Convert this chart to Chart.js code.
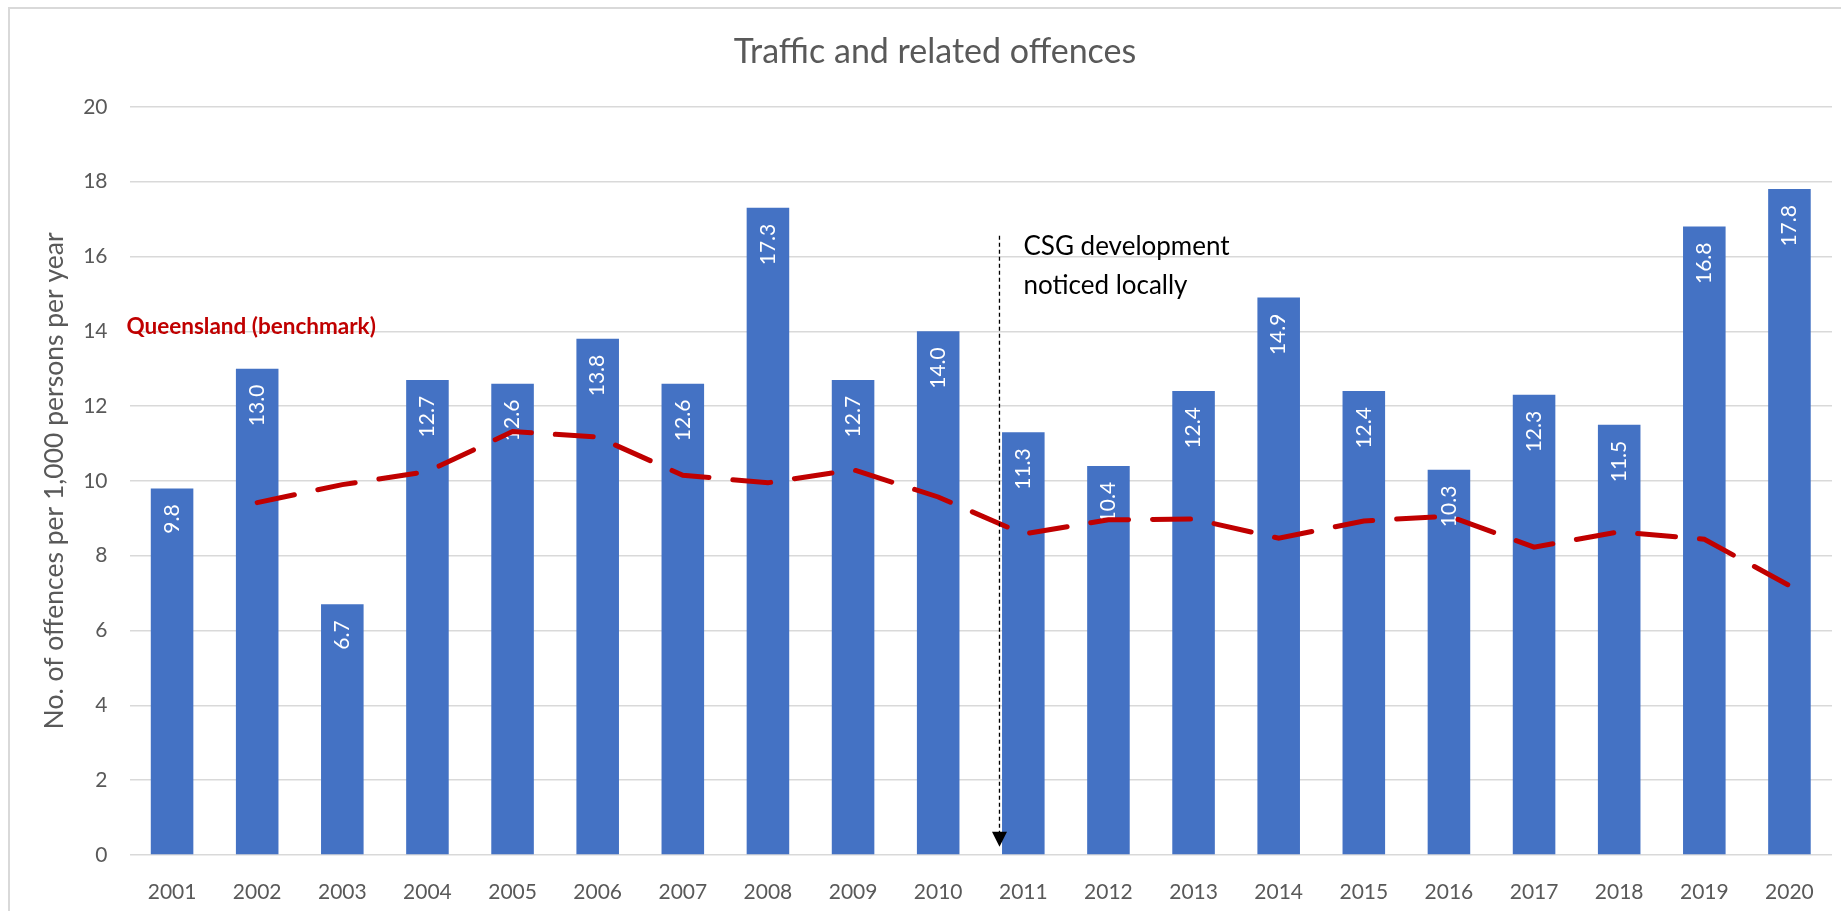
<!DOCTYPE html>
<html>
<head>
<meta charset="utf-8">
<script src="https://cdn.jsdelivr.net/npm/chart.js@4.4.1/dist/chart.umd.min.js"></script>
<style>
  body { margin: 0; background: #fff; overflow: hidden; }
  #frame { position: absolute; left: 8px; top: 7px; width: 1850px; height: 920px; border: 2px solid #d9d9d9; }
  #myChart { position: absolute; left: 0; top: 0; }
</style>
</head>
<body>
<div id="frame"></div>
<canvas id="myChart" width="1841" height="911"></canvas>
<script>
var years = ['2001', '2002', '2003', '2004', '2005', '2006', '2007', '2008', '2009', '2010',
             '2011', '2012', '2013', '2014', '2015', '2016', '2017', '2018', '2019', '2020'];

// local offences per 1,000 persons
var rates = [9.8, 13.0, 6.7, 12.7, 12.6, 13.8, 12.6, 17.3, 12.7, 14.0,
             11.3, 10.4, 12.4, 14.9, 12.4, 10.3, 12.3, 11.5, 16.8, 17.8];

// Queensland benchmark (no value for 2001)
var qldRates = [null, 9.42, 9.9, 10.25, 11.32, 11.17, 10.15, 9.95, 10.3, 9.57,
                8.58, 8.96, 8.98, 8.47, 8.93, 9.06, 8.23, 8.64, 8.44, 7.2];

var noteLines = ['CSG development', 'noticed locally'];

Chart.defaults.font.family = 'Lato, "Open Sans", sans-serif';

// bar value labels, written upwards inside the top of each bar
var barLabels = {
  id: 'barLabels',
  afterDatasetDraw: function(chart, args) {
    if (args.index !== 0) return;
    var ctx = chart.ctx;
    ctx.save();
    ctx.fillStyle = '#ffffff';
    ctx.font = '21px Lato';
    ctx.textAlign = 'right';
    ctx.textBaseline = 'middle';
    args.meta.data.forEach(function(bar, i) {
      ctx.save();
      ctx.translate(bar.x, bar.y + 16);
      ctx.rotate(-Math.PI / 2);
      ctx.fillText(rates[i].toFixed(1), 0, 0);
      ctx.restore();
    });
    ctx.restore();
  }
};

// CSG marker and the benchmark label
var notes = {
  id: 'notes',
  afterDatasetsDraw: function(chart) {
    var ctx = chart.ctx;
    var xs = chart.scales.x, ys = chart.scales.y;
    var x = xs.getPixelForValue(9.72);
    var yTop = ys.getPixelForValue(16.55);
    var yTip = ys.getPixelForValue(0.22);

    ctx.save();
    ctx.strokeStyle = '#000';
    ctx.lineWidth = 1.3;
    ctx.setLineDash([4, 3]);
    ctx.beginPath();
    ctx.moveTo(x, yTop);
    ctx.lineTo(x, yTip - 14);
    ctx.stroke();
    ctx.setLineDash([]);

    ctx.fillStyle = '#000';
    ctx.beginPath();
    ctx.moveTo(x - 7.5, yTip - 15);
    ctx.lineTo(x + 7.5, yTip - 15);
    ctx.lineTo(x, yTip);
    ctx.closePath();
    ctx.fill();

    ctx.font = '26px Lato';
    ctx.textAlign = 'left';
    ctx.textBaseline = 'middle';
    ctx.fillText(noteLines[0], x + 24, yTop + 11);
    ctx.fillText(noteLines[1], x + 24, yTop + 50);

    ctx.fillStyle = '#c00000';
    ctx.font = 'bold 22.5px Lato';
    ctx.fillText('Queensland (benchmark)', chart.chartArea.left - 3, ys.getPixelForValue(14.12));
    ctx.restore();
  }
};

var ctx = document.getElementById('myChart').getContext('2d');
var myChart = new Chart(ctx, {
  type: 'bar',
  data: {
    labels: years,
    datasets: [{
      type: 'bar',
      label: 'Local',
      data: rates,
      backgroundColor: '#4472c4',
      barPercentage: 0.5,
      categoryPercentage: 1,
      order: 2
    }, {
      type: 'line',
      label: 'Queensland (benchmark)',
      data: qldRates,
      borderColor: '#c00000',
      borderWidth: 5,
      borderDash: [38, 24],
      borderCapStyle: 'round',
      pointRadius: 0,
      tension: 0,
      fill: false,
      order: 1
    }]
  },
  options: {
    responsive: false,
    animation: false,
    layout: { padding: { left: 38, right: 9, top: 8, bottom: 0 } },
    plugins: {
      legend: { display: false },
      tooltip: { enabled: false },
      title: {
        display: true,
        text: 'Traffic and related offences',
        color: '#595959',
        font: { size: 34, weight: 'normal' },
        padding: { top: 24, bottom: 34 }
      }
    },
    scales: {
      x: {
        grid: { display: false },
        border: { display: false },
        ticks: { color: '#595959', font: { size: 21 }, padding: 17, maxRotation: 0, autoSkip: false },
        afterFit: function(s) { s.height = 56; }
      },
      y: {
        min: 0,
        max: 20,
        ticks: { stepSize: 2, color: '#595959', font: { size: 21 }, padding: 22 },
        grid: { color: '#d9d9d9', lineWidth: 1.5, drawTicks: false },
        border: { display: false },
        title: {
          display: true,
          text: 'No. of offences per 1,000 persons per year',
          color: '#595959',
          font: { size: 26.5 },
          padding: { top: 1, bottom: 0 }
        },
        afterFit: function(s) { s.width = 91.5; }
      }
    }
  },
  plugins: [barLabels, notes]
});
</script>
</body>
</html>
